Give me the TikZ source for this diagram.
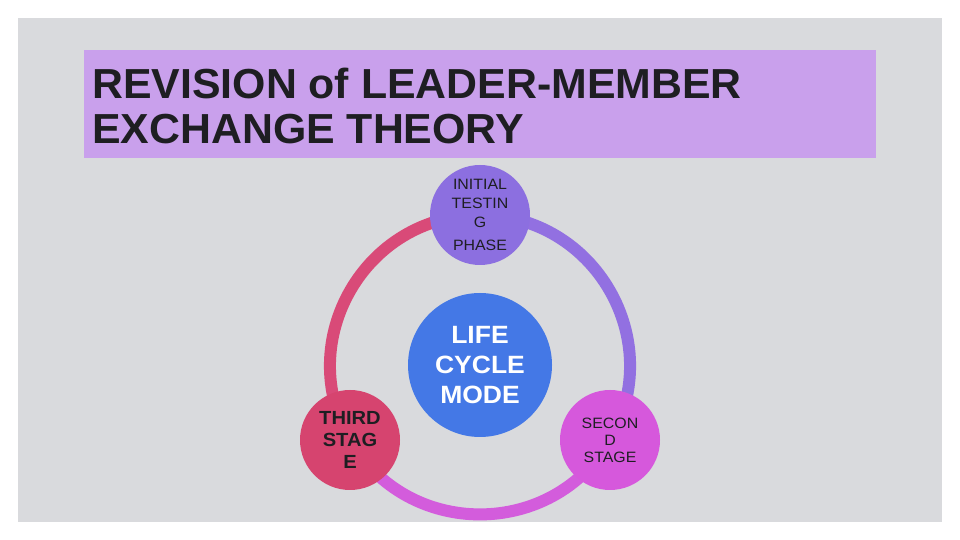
\documentclass[tikz,border=0pt]{standalone}
\usepackage{fontspec}
\setmainfont{Liberation Sans}
\newfontfamily\widesans[FakeStretch=1.06]{Liberation Sans}
\newfontfamily\titlesans[FakeStretch=1.02]{Liberation Sans}
\usepackage{xcolor}

\definecolor{slidegray}{HTML}{D9DADD}
\definecolor{titlelilac}{HTML}{C9A0EC}
\definecolor{phasepurple}{HTML}{8C6FE0}
\definecolor{thirdred}{HTML}{D6446F}
\definecolor{secondpink}{HTML}{D658DC}
\definecolor{coreblue}{HTML}{4478E6}
\definecolor{arcred}{HTML}{D94A78}
\definecolor{arcpurple}{HTML}{9270E1}
\definecolor{arcpink}{HTML}{D35CDC}
\definecolor{inkdark}{HTML}{1E1E22}

\pgfdeclarelayer{back}
\pgfdeclarelayer{ring}
\pgfsetlayers{back,ring,main}

\begin{document}
\begin{tikzpicture}[x=1pt, y=1pt,
  stage/.style={circle, inner sep=0pt, minimum size=100pt, align=center, text=inkdark},
  ringarc/.style={line width=12pt, looseness=1.13}]

\useasboundingbox (0,0) rectangle (960,540);

\begin{pgfonlayer}{back}
\fill[white] (0,0) rectangle (960,540);
\fill[slidegray] (18,18) rectangle (942,522);
\fill[titlelilac] (84,382) rectangle (876,490);
\end{pgfonlayer}

\node[anchor=north west, inner sep=0pt, align=left, text=inkdark,
  font=\titlesans\fontsize{42}{45}\selectfont\bfseries] (title) at (92,472)
  {REVISION of LEADER-MEMBER\\EXCHANGE THEORY};

\node[stage, fill=phasepurple, font=\widesans\fontsize{15}{19}\selectfont] (initial) at (480,325)
  {INITIAL\\TESTIN\\G\\[4pt]PHASE};
\node[stage, fill=thirdred, font=\widesans\fontsize{19}{22}\selectfont\bfseries] (third) at (350,100)
  {THIRD\\STAG\\E};
\node[stage, fill=secondpink, font=\widesans\fontsize{15}{17}\selectfont] (second) at (610,100)
  {SECON\\D\\STAGE};
\node[circle, fill=coreblue, minimum size=144pt, inner sep=0pt, align=center, text=white,
  font=\widesans\fontsize{25}{30}\selectfont\bfseries] (core) at (480,175)
  {LIFE\\CYCLE\\MODE};

% the cycle behind the stages
\begin{pgfonlayer}{ring}
\draw[ringarc, arcred] (initial.center) to[out=180, in=120] (third.center);
\draw[ringarc, arcpink] (third.center) to[out=300, in=240] (second.center);
\draw[ringarc, arcpurple] (second.center) to[out=60, in=0] (initial.center);
\end{pgfonlayer}

\end{tikzpicture}
\end{document}
